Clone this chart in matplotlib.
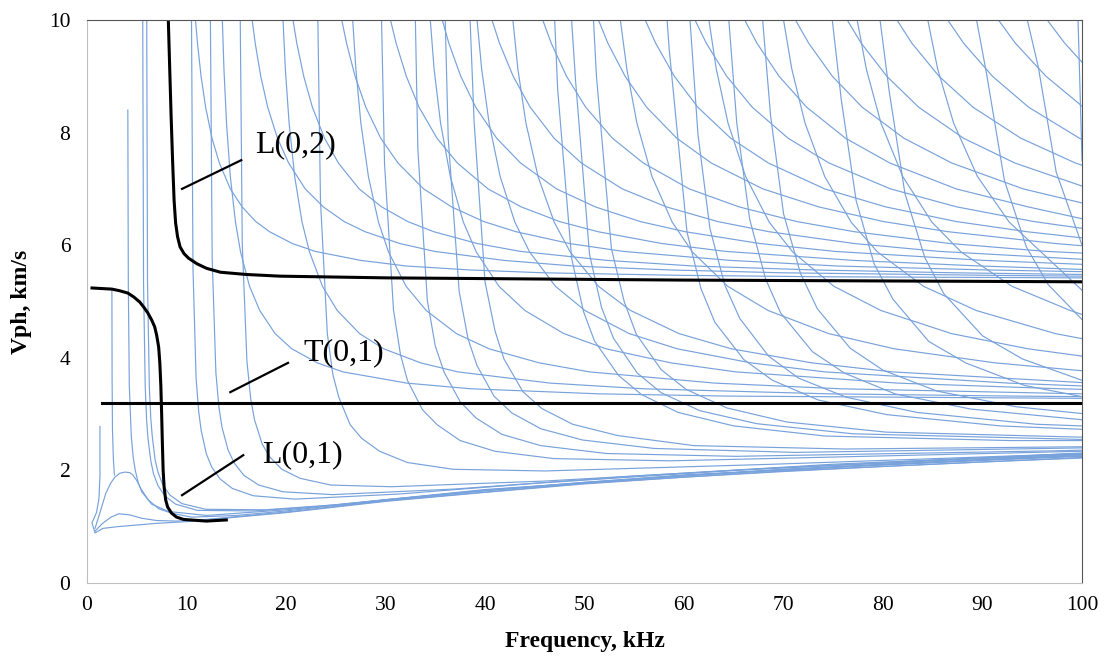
import matplotlib
matplotlib.use("Agg")
import matplotlib.pyplot as plt

# Phase velocity dispersion curves (frequency kHz, Vph km/s)

# flexural modes that drop into the low-velocity bundle
low_modes = [
    ([1.3, 1.3, 1.2, 0.95, 0.5, 0.8, 1.6, 3, 5, 7, 10, 15, 20, 30, 40, 50, 60, 70, 80, 90, 100],
     [2.78, 1.9, 1.5, 1.25, 1.07, 0.89, 0.97, 1.0, 1.03, 1.06, 1.09, 1.17, 1.25, 1.45, 1.61, 1.76, 1.88, 1.98, 2.07, 2.15, 2.22]),
    ([0.8, 1.3, 1.9, 2.4, 2.8, 3.3, 3.8, 4.3, 4.6, 5.0, 5.4, 5.8, 6.2, 7.2, 8.5, 10.5, 15, 20, 30, 40, 50, 60, 70, 80, 90, 100],
     [0.97, 1.25, 1.6, 1.78, 1.88, 1.95, 1.97, 1.96, 1.92, 1.82, 1.68, 1.57, 1.47, 1.32, 1.24, 1.17, 1.2, 1.28, 1.48, 1.64, 1.79, 1.91, 2.01, 2.1, 2.18, 2.25]),
    ([0.8, 1.5, 2.4, 3.2, 4.3, 5.5, 7, 9, 12, 20, 30, 50, 70, 100],
     [0.92, 1.05, 1.17, 1.23, 1.21, 1.15, 1.11, 1.1, 1.13, 1.26, 1.46, 1.77, 1.99, 2.23]),
    ([2.5, 2.52, 2.56, 2.65, 2.75],
     [5.2, 3.6, 2.7, 2.2, 1.92]),
    ([4.1, 4.15, 4.25, 4.45, 4.65, 4.85, 5.15, 5.5, 6.5, 8.2, 12, 20, 40, 70, 100],
     [8.4, 5.3, 3.5, 2.6, 2.22, 2.0, 1.78, 1.62, 1.4, 1.27, 1.2, 1.3, 1.66, 2.02, 2.26]),
    ([5.6, 5.68, 5.85, 5.99, 6.13, 6.41, 6.68, 7.13, 7.8, 8.91, 11.1, 16.7, 25, 40, 60, 80, 100],
     [10, 5.32, 3.48, 2.89, 2.56, 2.17, 1.94, 1.73, 1.55, 1.4, 1.29, 1.28, 1.38, 1.64, 1.91, 2.1, 2.27]),
    ([6.0, 6.08, 6.26, 6.41, 6.56, 6.85, 7.15, 7.63, 8.34, 9.54, 11.9, 17.9, 25, 40, 60, 80, 100],
     [10, 5.35, 3.5, 2.92, 2.6, 2.18, 1.96, 1.74, 1.56, 1.41, 1.31, 1.3, 1.39, 1.65, 1.92, 2.11, 2.28]),
    ([10.5, 10.65, 10.96, 11.22, 11.48, 12.0, 12.53, 13.36, 14.6, 16.7, 20.9, 31.3, 45, 65, 85, 100],
     [10, 5.58, 3.64, 3.05, 2.7, 2.29, 2.06, 1.85, 1.68, 1.55, 1.49, 1.58, 1.77, 2.0, 2.17, 2.29]),
    ([12.4, 12.58, 12.95, 13.25, 13.56, 14.18, 14.8, 15.78, 17.26, 19.7, 24.7, 37, 55, 75, 100],
     [10, 5.75, 3.74, 3.13, 2.77, 2.36, 2.13, 1.91, 1.74, 1.62, 1.57, 1.67, 1.9, 2.11, 2.3]),
    ([15.4, 15.6, 16.07, 16.45, 16.83, 17.6, 18.36, 19.58, 21.4, 24.5, 30.6, 45.9, 70, 100],
     [10, 6.03, 3.94, 3.27, 2.9, 2.47, 2.24, 2.02, 1.86, 1.74, 1.71, 1.81, 2.05, 2.31]),
    ([23.2, 23.46, 24.15, 24.7, 25.3, 26.45, 27.6, 29.4, 32.2, 36.8, 46, 69, 100],
     [10, 6.8, 4.43, 3.71, 3.3, 2.81, 2.57, 2.34, 2.14, 2.02, 1.99, 2.11, 2.3]),
    ([29.6, 29.9, 30.8, 31.5, 32.2, 33.7, 35.2, 37.5, 41, 46.9, 58.6, 87.9, 100],
     [10, 7.45, 4.85, 4.06, 3.6, 3.08, 2.81, 2.53, 2.34, 2.21, 2.17, 2.29, 2.34]),
    ([33.0, 33.25, 34.2, 35.0, 35.9, 37.5, 39.1, 41.7, 45.6, 52.2, 65.2, 97.8, 100],
     [10, 7.7, 5.02, 4.21, 3.74, 3.22, 2.93, 2.64, 2.44, 2.3, 2.25, 2.35, 2.36]),
    ([36.0, 36.3, 37.4, 38.3, 39.2, 40.9, 42.7, 45.6, 49.8, 57, 71.2, 100],
     [10, 7.9, 5.18, 4.33, 3.86, 3.32, 3.02, 2.74, 2.54, 2.39, 2.32, 2.4]),
    ([38.5, 38.9, 40, 41, 41.9, 43.8, 45.7, 48.8, 53.3, 61, 76.2, 100],
     [10, 8.2, 5.35, 4.48, 3.98, 3.4, 3.1, 2.82, 2.62, 2.44, 2.38, 2.42]),
    ([47, 47.3, 48.7, 49.9, 51, 53.4, 55.7, 59.4, 65, 74.2, 92.8, 100],
     [10, 8.77, 5.77, 4.82, 4.3, 3.69, 3.35, 3.03, 2.79, 2.61, 2.53, 2.53]),
    ([48.7, 49.1, 50.5, 51.7, 52.9, 55.3, 57.7, 61.6, 67.3, 77, 100],
     [10, 8.92, 5.84, 4.9, 4.35, 3.73, 3.38, 3.06, 2.83, 2.65, 2.55]),
    ([50.9, 51.2, 52.7, 54, 55.2, 57.7, 60.2, 64.3, 70.3, 80.3, 100],
     [10, 9.0, 5.94, 4.99, 4.42, 3.79, 3.44, 3.11, 2.86, 2.68, 2.59]),
    ([58.3, 58.5, 60.3, 61.7, 63.1, 66, 68.9, 73.5, 80.4, 91.8, 100],
     [10, 9.5, 6.23, 5.23, 4.63, 3.97, 3.6, 3.25, 2.99, 2.79, 2.73]),
    ([60.6, 61.4, 62.6, 64.1, 65.6, 68.5, 71.5, 76.3, 83.4, 95.4, 100],
     [10, 7.97, 6.3, 5.29, 4.7, 4.03, 3.64, 3.3, 3.03, 2.82, 2.79]),
    ([64.5, 65.3, 66.6, 68.2, 69.7, 72.9, 76.1, 81.2, 88.8, 100],
     [10, 8.17, 6.46, 5.4, 4.8, 4.11, 3.73, 3.36, 3.09, 2.9]),
    ([67.9, 68.7, 70, 71.7, 73.4, 76.7, 80, 85.4, 93.4, 100],
     [10, 8.3, 6.56, 5.5, 4.87, 4.17, 3.78, 3.41, 3.13, 3.01]),
    ([74.9, 75.8, 77.3, 79.1, 81, 84.6, 88.3, 94.2, 100],
     [10, 8.59, 6.79, 5.67, 5.04, 4.29, 3.91, 3.51, 3.31]),
    ([79.7, 80.6, 82.2, 84.2, 86.1, 90, 94, 100],
     [10, 8.76, 6.92, 5.78, 5.14, 4.39, 3.98, 3.6]),
    ([89.4, 90.4, 92.2, 94.4, 96.6, 100],
     [10, 9.05, 7.15, 5.97, 5.3, 4.68]),
    ([94.5, 95.6, 97.4, 100],
     [10, 9.17, 7.3, 6.0]),
    ([99.6, 100],
     [10, 7.5]),
]

# modes levelling off just above T(0,1)
mid_modes = [
    ([13.6, 13.76, 14.02, 14.4, 14.92, 15.43, 16.33, 17.36, 18.9, 20.58, 23.15, 25.72, 32.15, 38.58, 51.44, 64.3, 100],
     [10, 9.13, 8.17, 7.22, 6.41, 5.88, 5.27, 4.84, 4.43, 4.16, 3.91, 3.75, 3.55, 3.45, 3.36, 3.32, 3.28]),
    ([19.7, 19.93, 20.31, 20.87, 21.61, 22.36, 23.66, 25.15, 27.39, 29.81, 33.53, 37.26, 46.58, 55.89, 74.52, 93.15, 100],
     [10, 9.13, 8.17, 7.22, 6.41, 5.88, 5.27, 4.84, 4.43, 4.16, 3.91, 3.75, 3.55, 3.45, 3.36, 3.32, 3.31]),
    ([26.7, 27.02, 27.52, 28.28, 29.29, 30.3, 32.07, 34.09, 37.12, 40.4, 45.45, 50.5, 63.13, 75.75, 100],
     [10, 9.13, 8.17, 7.22, 6.41, 5.88, 5.27, 4.84, 4.43, 4.16, 3.91, 3.75, 3.55, 3.45, 3.36]),
    ([34.5, 34.88, 35.53, 36.51, 37.82, 39.12, 41.4, 44.01, 47.92, 52.16, 58.68, 65.2, 81.5, 97.8, 100],
     [10, 9.13, 8.17, 7.22, 6.41, 5.88, 5.27, 4.84, 4.43, 4.16, 3.91, 3.75, 3.55, 3.45, 3.44]),
    ([39.2, 39.66, 40.41, 41.52, 43, 44.48, 47.08, 50.04, 54.49, 59.31, 66.73, 74.14, 92.68, 100],
     [10, 9.13, 8.17, 7.22, 6.41, 5.88, 5.27, 4.84, 4.43, 4.16, 3.91, 3.75, 3.55, 3.5]),
    ([42.8, 43.3, 44.11, 45.33, 46.95, 48.56, 51.4, 54.63, 59.49, 64.75, 72.85, 80.94, 100],
     [10, 9.13, 8.17, 7.22, 6.41, 5.88, 5.27, 4.84, 4.43, 4.16, 3.91, 3.75, 3.56]),
    ([53.6, 54.25, 55.26, 56.78, 58.81, 60.84, 64.39, 68.45, 74.53, 81.12, 91.26, 100],
     [10, 9.13, 8.17, 7.22, 6.41, 5.88, 5.27, 4.84, 4.43, 4.16, 3.91, 3.77]),
    ([62.5, 63.24, 64.42, 66.19, 68.56, 70.92, 75.06, 79.79, 86.88, 94.56, 100],
     [10, 9.13, 8.17, 7.22, 6.41, 5.88, 5.27, 4.84, 4.43, 4.16, 4.03]),
    ([70, 70.83, 72.16, 74.14, 76.79, 79.44, 84.07, 89.37, 97.31, 100],
     [10, 9.13, 8.17, 7.22, 6.41, 5.88, 5.27, 4.84, 4.43, 4.34]),
    ([77.4, 78.32, 79.79, 81.98, 84.91, 87.84, 92.96, 98.82, 100],
     [10, 9.13, 8.17, 7.22, 6.41, 5.88, 5.27, 4.84, 4.77]),
    ([84.5, 85.49, 87.09, 89.49, 92.68, 95.88, 100],
     [10, 9.13, 8.17, 7.22, 6.41, 5.88, 5.2]),
]

# gently sloping modes that settle just above L(0,2)
high_modes = [
    ([10.9, 11.1, 11.46, 11.92, 12.56, 13.3, 14.4, 15.59, 16.96, 18.34, 20.63, 22.93, 27.51, 32.1, 38.51, 45.85, 59.6, 73.36, 100],
     [10, 9.59, 9.0, 8.45, 7.9, 7.46, 7.0, 6.68, 6.42, 6.24, 6.03, 5.89, 5.73, 5.63, 5.56, 5.51, 5.465, 5.44, 5.42]),
    ([16.6, 16.9, 17.46, 18.16, 19.14, 20.26, 21.93, 23.75, 25.84, 27.94, 31.43, 34.93, 41.91, 48.9, 58.67, 69.85, 90.8, 100],
     [10, 9.59, 9.0, 8.45, 7.9, 7.46, 7.0, 6.68, 6.42, 6.24, 6.03, 5.89, 5.73, 5.63, 5.56, 5.51, 5.465, 5.45]),
    ([20.7, 21.08, 21.78, 22.65, 23.87, 25.26, 27.35, 29.61, 32.23, 34.84, 39.2, 43.55, 52.26, 60.97, 73.16, 87.1, 100],
     [10, 9.59, 9.0, 8.45, 7.9, 7.46, 7.0, 6.68, 6.42, 6.24, 6.03, 5.89, 5.73, 5.63, 5.56, 5.51, 5.48]),
    ([25.6, 26.08, 26.94, 28.02, 29.52, 31.25, 33.83, 36.64, 39.87, 43.1, 48.49, 53.88, 64.65, 75.43, 90.51, 100],
     [10, 9.59, 9.0, 8.45, 7.9, 7.46, 7.0, 6.68, 6.42, 6.24, 6.03, 5.89, 5.73, 5.63, 5.56, 5.53]),
    ([30.5, 31.06, 32.09, 33.37, 35.17, 37.22, 40.3, 43.64, 47.49, 51.34, 57.76, 64.18, 77.01, 89.85, 100],
     [10, 9.59, 9.0, 8.45, 7.9, 7.46, 7.0, 6.68, 6.42, 6.24, 6.03, 5.89, 5.73, 5.63, 5.57]),
    ([35.7, 36.36, 37.56, 39.07, 41.17, 43.57, 47.18, 51.09, 55.59, 60.1, 67.61, 75.13, 90.15, 100],
     [10, 9.59, 9.0, 8.45, 7.9, 7.46, 7.0, 6.68, 6.42, 6.24, 6.03, 5.89, 5.73, 5.66]),
    ([40.7, 41.45, 42.83, 44.54, 46.94, 49.68, 53.79, 58.24, 63.38, 68.52, 77.09, 85.65, 100],
     [10, 9.59, 9.0, 8.45, 7.9, 7.46, 7.0, 6.68, 6.42, 6.24, 6.03, 5.89, 5.75]),
    ([45.8, 46.65, 48.19, 50.12, 52.81, 55.9, 60.52, 65.54, 71.32, 77.1, 86.74, 96.38, 100],
     [10, 9.59, 9.0, 8.45, 7.9, 7.46, 7.0, 6.68, 6.42, 6.24, 6.03, 5.89, 5.86]),
    ([51.4, 52.34, 54.08, 56.24, 59.27, 62.73, 67.92, 73.54, 80.03, 86.52, 97.34, 100],
     [10, 9.59, 9.0, 8.45, 7.9, 7.46, 7.0, 6.68, 6.42, 6.24, 6.03, 5.99]),
    ([56.1, 57.14, 59.03, 61.39, 64.69, 68.47, 74.14, 80.27, 87.36, 94.44, 100],
     [10, 9.59, 9.0, 8.45, 7.9, 7.46, 7.0, 6.68, 6.42, 6.24, 6.13]),
    ([61.1, 62.23, 64.29, 66.86, 70.46, 74.57, 80.75, 87.43, 95.15, 100],
     [10, 9.59, 9.0, 8.45, 7.9, 7.46, 7.0, 6.68, 6.42, 6.3]),
    ([66.1, 67.32, 69.55, 72.33, 76.23, 80.68, 87.35, 94.59, 100],
     [10, 9.59, 9.0, 8.45, 7.9, 7.46, 7.0, 6.68, 6.47]),
    ([71.2, 72.52, 74.91, 77.91, 82.1, 86.9, 94.09, 100],
     [10, 9.59, 9.0, 8.45, 7.9, 7.46, 7.0, 6.75]),
    ([76.4, 77.8, 80.38, 83.59, 88.09, 93.24, 100],
     [10, 9.59, 9.0, 8.45, 7.9, 7.46, 7.05]),
    ([81.4, 82.89, 85.63, 89.05, 93.85, 99.33, 100],
     [10, 9.59, 9.0, 8.45, 7.9, 7.46, 7.42]),
    ([86.5, 88.09, 91, 94.64, 99.74, 100],
     [10, 9.59, 9.0, 8.45, 7.9, 7.88]),
    ([91.6, 93.29, 96.38, 100],
     [10, 9.59, 9.0, 8.47]),
    ([96.5, 98.25, 100],
     [10, 9.59, 9.25]),
]

# highlighted axisymmetric modes
l01_freq = [0.5, 1.5, 2.5, 3.3, 4.1, 4.7, 5.3, 5.7, 6.1, 6.5, 6.8, 7.0, 7.2, 7.32, 7.42, 7.5, 7.57,
            7.65, 7.75, 7.9, 8.1, 8.5, 9.0, 9.7, 10.4, 12, 14]
l01_vph = [5.24, 5.23, 5.22, 5.19, 5.15, 5.08, 4.99, 4.9, 4.8, 4.67, 4.55, 4.4, 4.19, 3.9, 3.5, 3.0, 2.5,
           2.0, 1.7, 1.48, 1.35, 1.24, 1.17, 1.13, 1.12, 1.1, 1.12]
l02_freq = [8.17, 8.3, 8.45, 8.6, 8.75, 8.9, 9.1, 9.35, 9.75, 10.2, 11.05, 12, 13.4, 16, 19.4, 30, 60, 100]
l02_vph = [10, 9.2, 8.3, 7.5, 6.8, 6.4, 6.15, 5.97, 5.85, 5.77, 5.67, 5.59, 5.52, 5.48, 5.45, 5.42, 5.38, 5.35]
t01_freq = [1.5, 100]
t01_vph = [3.2, 3.2]

serif = ["Liberation Serif", "DejaVu Serif"]
blue = "#78a2db"

fig = plt.figure(figsize=(11.1, 6.66), dpi=100)
ax = fig.add_axes([0.0784, 0.1246, 0.8964, 0.8454])

for group in (low_modes, mid_modes, high_modes):
    for f, v in group:
        ax.plot(f, v, color=blue, lw=0.85)

ax.plot(l01_freq, l01_vph, color="black", lw=2.2)
ax.plot(l02_freq, l02_vph, color="black", lw=2.2)
ax.plot(t01_freq, t01_vph, color="black", lw=2.2)

# labels with leader lines
ax.plot([9.55, 15.5], [7.0, 7.51], color="black", lw=1.6)
ax.plot([14.4, 20.2], [3.39, 3.91], color="black", lw=1.6)
ax.plot([9.55, 15.7], [1.56, 2.27], color="black", lw=1.6)
ax.text(16.9, 7.78, "L(0,2)", family=serif, fontsize=23, va="center", ha="left")
ax.text(21.7, 4.09, "T(0,1)", family=serif, fontsize=23, va="center", ha="left")
ax.text(17.6, 2.27, "L(0,1)", family=serif, fontsize=23, va="center", ha="left")

ax.set_xlim(0, 100)
ax.set_ylim(0, 10)
ax.set_xticks(range(0, 101, 10))
ax.set_yticks(range(0, 11, 2))
ax.tick_params(length=0, labelsize=15.5)
ax.tick_params(axis="x", pad=9)
ax.tick_params(axis="y", pad=12)
for lab in ax.get_xticklabels() + ax.get_yticklabels():
    lab.set_family(serif)

ax.spines["left"].set_color("#bfbfbf")
ax.spines["bottom"].set_color("#bfbfbf")
ax.spines["top"].set_color("#555555")
ax.spines["right"].set_color("#555555")

ax.set_xlabel("Frequency, kHz", family=serif, fontsize=17, fontweight="bold", labelpad=12)
ax.set_ylabel("Vph, km/s", family=serif, fontsize=17, fontweight="bold", labelpad=12)

fig.savefig("out.png", dpi=100)
